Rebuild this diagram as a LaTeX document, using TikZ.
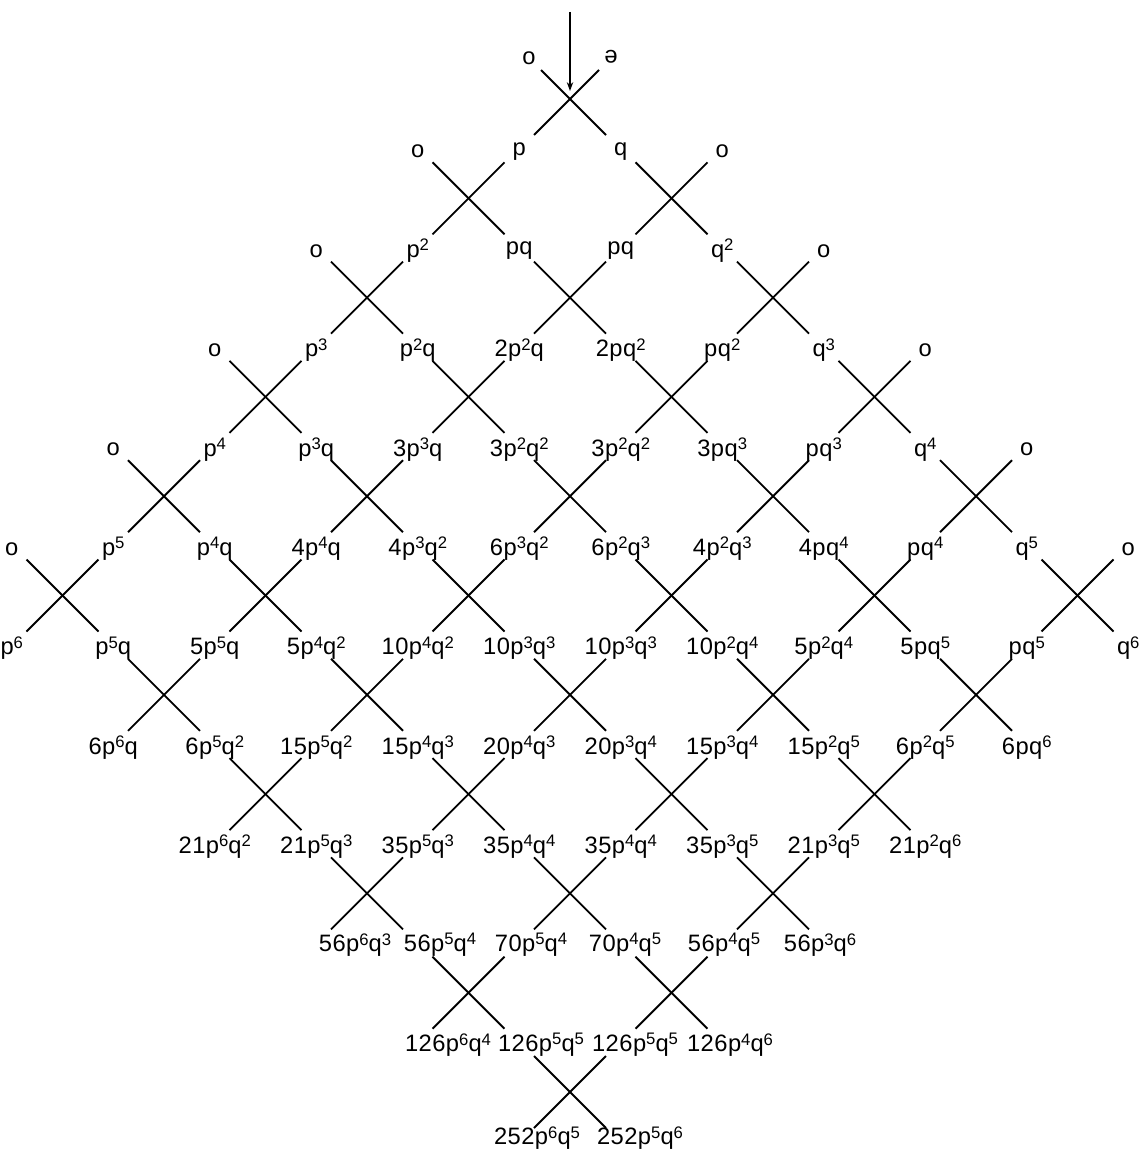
\documentclass[tikz,border=0pt]{standalone}
\usepackage{fontspec}
\setmainfont[LetterSpace=2]{Liberation Sans}
\usepackage{graphicx}
\usetikzlibrary{arrows.meta}
\newcommand\ex[1]{\raisebox{3.8pt}{\fontsize{9.5}{10}\selectfont #1}}
\tikzset{
  ln/.style={line width=1.05pt,black},
  lab/.style={inner sep=1pt,font=\fontsize{13.5}{15}\selectfont}
}
\begin{document}
\begin{tikzpicture}[x=0.02cm,y=-0.02cm]
\useasboundingbox (0,0) rectangle (1147,1152);
% crossings
\foreach \r/\cs in {0/{0},1/{-1,1},2/{-2,0,2},3/{-3,-1,1,3},4/{-4,-2,0,2,4},5/{-5,-3,-1,1,3,5},6/{-4,-2,0,2,4},7/{-3,-1,1,3},8/{-2,0,2},9/{-1,1},10/{0}}{
  \foreach \c in \cs {
    \pgfmathsetmacro\xx{570+101.5*\c}
    \pgfmathsetmacro\yy{99+99.3*\r}
    \pgfmathsetmacro\ua{\r==0 ? 29 : 36}
    \pgfmathtruncatemacro\k{\c+5}
    \coordinate (X\r-\k) at (\xx,\yy);
    \coordinate (X\r-\k-ul) at (\xx-\ua,\yy-\ua);
    \coordinate (X\r-\k-ur) at (\xx+\ua,\yy-\ua);
    \coordinate (X\r-\k-ll) at (\xx-36,\yy+36);
    \coordinate (X\r-\k-lr) at (\xx+36,\yy+36);
    \draw[ln] (X\r-\k-ul) -- (X\r-\k-lr);
    \draw[ln] (X\r-\k-ur) -- (X\r-\k-ll);
  }
}
% input arrow
\coordinate (top) at (570,12);
\coordinate (arrowend) at (570,91);
\draw[ln,-{Stealth[length=5pt,width=3.6pt]}] (top) -- (arrowend);
% top labels
\node[lab] (L0-0) at (529,58) {o};
\node[lab] (L0-1) at (611,57) {\rotatebox[origin=c]{180}{e}};
% label rows following the lattice
\foreach \j/\cs/\lst in {
 1/-1.5/{o,p,q,o},
 2/-2.5/{o,p\ex2,pq,pq,q\ex2,o},
 3/-3.5/{o,p\ex3,p\ex2q,2p\ex2q,2pq\ex2,pq\ex2,q\ex3,o},
 4/-4.5/{o,p\ex4,p\ex3q,3p\ex3q,3p\ex2q\ex2,3p\ex2q\ex2,3pq\ex3,pq\ex3,q\ex4,o},
 5/-5.5/{o,p\ex5,p\ex4q,4p\ex4q,4p\ex3q\ex2,6p\ex3q\ex2,6p\ex2q\ex3,4p\ex2q\ex3,4pq\ex4,pq\ex4,q\ex5,o},
 6/-5.5/{p\ex6,p\ex5q,5p\ex5q,5p\ex4q\ex2,10p\ex4q\ex2,10p\ex3q\ex3,10p\ex3q\ex3,10p\ex2q\ex4,5p\ex2q\ex4,5pq\ex5,pq\ex5,q\ex6},
 7/-4.5/{6p\ex6q,6p\ex5q\ex2,15p\ex5q\ex2,15p\ex4q\ex3,20p\ex4q\ex3,20p\ex3q\ex4,15p\ex3q\ex4,15p\ex2q\ex5,6p\ex2q\ex5,6pq\ex6},
 8/-3.5/{21p\ex6q\ex2,21p\ex5q\ex3,35p\ex5q\ex3,35p\ex4q\ex4,35p\ex4q\ex4,35p\ex3q\ex5,21p\ex3q\ex5,21p\ex2q\ex6}}{
  \foreach \t [count=\i from 0] in \lst {
    \node[lab] (L\j-\i) at ({570+101.5*(\cs+\i)},{99+99.3*(\j-0.5)+3}) {\t};
  }
}
% crowded bottom rows
\foreach \xx/\t [count=\i from 0] in {355/56p\ex6q\ex3,440/56p\ex5q\ex4,531/70p\ex5q\ex4,625/70p\ex4q\ex5,724/56p\ex4q\ex5,820/56p\ex3q\ex6}{
  \node[lab] (L9-\i) at (\xx,945) {\t};
}
\foreach \xx/\t [count=\i from 0] in {448/126p\ex6q\ex4,541/126p\ex5q\ex5,635/126p\ex5q\ex5,730/126p\ex4q\ex6}{
  \node[lab] (L10-\i) at (\xx,1045) {\t};
}
\foreach \xx/\t [count=\i from 0] in {537/252p\ex6q\ex5,640/252p\ex5q\ex6}{
  \node[lab] (L11-\i) at (\xx,1138) {\t};
}
\end{tikzpicture}
\end{document}
